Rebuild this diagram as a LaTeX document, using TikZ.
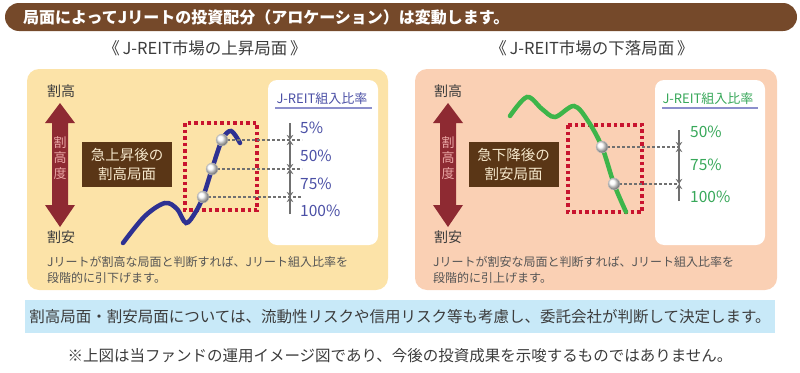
\documentclass[tikz,border=0pt]{standalone}
\usepackage{fontspec}
\setmainfont{Noto Sans CJK JP}
\usepackage{xcolor}
\usetikzlibrary{arrows.meta,shadings}
\definecolor{barbrown}{HTML}{75492A}
\definecolor{riseback}{HTML}{FCE3A8}
\definecolor{fallback}{HTML}{FAD0B4}
\definecolor{scalered}{HTML}{8E2A32}
\definecolor{scaletext}{HTML}{EBA8A6}
\definecolor{phasebrown}{HTML}{5A3616}
\definecolor{phasetext}{HTML}{F6E8CC}
\definecolor{zonered}{HTML}{C8142F}
\definecolor{risenavy}{HTML}{2E3192}
\definecolor{fallgreen}{HTML}{3DB54A}
\definecolor{rateblue}{HTML}{4B50A6}
\definecolor{rategreen}{HTML}{38A85A}
\definecolor{ruleblue}{HTML}{8C8FCC}
\definecolor{bandblue}{HTML}{C8E9F8}
\definecolor{inkgray}{HTML}{3C3C3C}
\definecolor{capgray}{HTML}{555555}
\definecolor{guidegray}{HTML}{707070}
\newcommand{\pxfont}[2]{\fontsize{#1}{#2}\selectfont}
\tikzset{
  panelbox/.style={rounded corners=12pt},
  ratebox/.style={fill=white, rounded corners=9pt},
  endlabel/.style={font=\pxfont{14}{16}, text=inkgray, inner sep=0pt},
  phasebox/.style={fill=phasebrown, text=phasetext, align=center, inner sep=0pt, minimum width=90pt, minimum height=45pt, font=\pxfont{14.5}{19}},
  zonebox/.style={draw=zonered, line width=3.5pt, dash pattern=on 3.5pt off 3pt},
  trendline/.style={line width=4.5pt, line cap=round},
  levelline/.style={draw=guidegray, line width=1.2pt, dash pattern=on 3pt off 2pt},
  marker/.style={circle, shading=ball, ball color=white, draw=gray!45, minimum size=12pt, inner sep=0pt},
  steparrow/.style={draw=guidegray, line width=2pt, -{Stealth[length=5pt,width=6.5pt]}},
  twoarrow/.style={draw=guidegray, line width=2pt, {Stealth[length=5pt,width=6.5pt]}-{Stealth[length=5pt,width=6.5pt]}},
  ratelabel/.style={anchor=west, inner sep=0pt, font=\pxfont{15.5}{18}},
  rulehead/.style={inner sep=0pt, font=\pxfont{13}{16}},
  caption/.style={anchor=north west, align=left, inner sep=0pt, text=capgray, font=\pxfont{12}{16}}
}

\begin{document}
\begin{tikzpicture}[x=1pt, y=-1pt]
  \useasboundingbox (0,0) rectangle (800,372);

  % title bar
  \fill[barbrown, rounded corners=14pt] (5,3) rectangle (797,31);
  \node[anchor=west, inner sep=0pt, text=white, font=\pxfont{16}{18}\bfseries] (title) at (23,17) {局面によってJリートの投資配分（アロケーション）は変動します。};
  \node[inner sep=0pt, text=inkgray, font=\pxfont{16.5}{18}] (risehead) at (205,48) {《\,J-REIT市場の上昇局面\,》};
  \node[inner sep=0pt, text=inkgray, font=\pxfont{16.5}{18}] (fallhead) at (592,48) {《\,J-REIT市場の下落局面\,》};

  % panels
  \fill[riseback, panelbox] (27,69) rectangle (388,290);
  \fill[fallback, panelbox] (415,69) rectangle (777,290);
  \fill[ratebox] (268,80) rectangle (378,245);
  \fill[ratebox] (655,80) rectangle (765,245);

  % valuation scales
  \fill[scalered] (60,103) -- (75,123) -- (68,123) -- (68,205) -- (75,205) -- (60,227)
    -- (45,205) -- (52,205) -- (52,123) -- (45,123) -- cycle;
  \fill[scalered] (448,103) -- (463,123) -- (456,123) -- (456,205) -- (463,205) -- (448,227)
    -- (433,205) -- (440,205) -- (440,123) -- (433,123) -- cycle;
  \node[align=center, inner sep=0pt, text=scaletext, font=\pxfont{13}{15.5}] (risescale) at (60,158) {割\\高\\度};
  \node[align=center, inner sep=0pt, text=scaletext, font=\pxfont{13}{15.5}] (fallscale) at (448,158) {割\\高\\度};
  \node[endlabel] (risetop) at (61,91) {割高};
  \node[endlabel] (risebot) at (61,237) {割安};
  \node[endlabel] (falltop) at (448,91) {割高};
  \node[endlabel] (fallbot) at (448,237) {割安};

  \node[phasebox] (risephase) at (127,164.5) {急上昇後の\\割高局面};
  \node[phasebox] (fallphase) at (513.5,164.5) {急下降後の\\割安局面};

  % zones and trends
  \draw[zonebox] (185,123) rectangle (257,210);
  \draw[zonebox] (568,125) rectangle (642,212);
  \draw[trendline, risenavy] plot[smooth, tension=0.55] coordinates {(123,243) (145,216) (165,203) (177,209) (186,223) (195,213) (203,197) (212,169) (222,140) (231,131) (240,143)};
  \draw[trendline, fallgreen] plot[smooth, tension=0.55] coordinates {(510,116) (527,97) (542,109) (555,117) (574,106) (588,121) (602,147) (614,184) (626,212)};

  % rising market: levels
  \coordinate (riseend1) at (302,140);
  \coordinate (riseend2) at (302,169);
  \coordinate (riseend3) at (302,197);
  \draw[levelline] (222,140) -- (riseend1);
  \draw[levelline] (212,169) -- (riseend2);
  \draw[levelline] (203,197) -- (riseend3);
  \node[marker] (risemark1) at (222,140) {};
  \node[marker] (risemark2) at (212,169) {};
  \node[marker] (risemark3) at (203,197) {};

  \coordinate (risetick0) at (290,123);
  \coordinate (risetick1) at (290,140);
  \coordinate (risetick2) at (290,169);
  \coordinate (risetick3) at (290,197);
  \coordinate (risetick4) at (290,214);
  \draw[steparrow] (risetick0) -- (risetick1);
  \draw[twoarrow] (risetick1) -- (risetick2);
  \draw[twoarrow] (risetick2) -- (risetick3);
  \draw[steparrow] (risetick4) -- (risetick3);

  \node[rulehead, text=rateblue] (riserate) at (322,99) {J-REIT組入比率};
  \draw[ruleblue, line width=1.2pt] (275,108) -- (372,108);
  \node[ratelabel, text=rateblue] (rise5) at (300,128) {5\%};
  \node[ratelabel, text=rateblue] (rise50) at (300,156) {50\%};
  \node[ratelabel, text=rateblue] (rise75) at (300,184) {75\%};
  \node[ratelabel, text=rateblue] (rise100) at (300,211) {100\%};

  % falling market: levels
  \coordinate (fallend1) at (680,147);
  \coordinate (fallend2) at (680,184);
  \draw[levelline] (602,147) -- (fallend1);
  \draw[levelline] (614,184) -- (fallend2);
  \node[marker] (fallmark1) at (602,147) {};
  \node[marker] (fallmark2) at (614,184) {};

  \coordinate (falltick0) at (679,130);
  \coordinate (falltick1) at (679,147);
  \coordinate (falltick2) at (679,184);
  \coordinate (falltick3) at (679,201);
  \draw[steparrow] (falltick0) -- (falltick1);
  \draw[twoarrow] (falltick1) -- (falltick2);
  \draw[steparrow] (falltick3) -- (falltick2);

  \node[rulehead, text=rategreen] (fallrate) at (708,99) {J-REIT組入比率};
  \draw[ruleblue, line width=1.2pt] (662,108) -- (758,108);
  \node[ratelabel, text=rategreen] (fall50) at (690,132) {50\%};
  \node[ratelabel, text=rategreen] (fall75) at (690,165) {75\%};
  \node[ratelabel, text=rategreen] (fall100) at (690,197) {100\%};

  % captions
  \node[caption] (risecap) at (47,256) {Jリートが割高な局面と判断すれば、Jリート組入比率を\\段階的に引下げます。};
  \node[caption] (fallcap) at (433,256) {Jリートが割安な局面と判断すれば、Jリート組入比率を\\段階的に引上げます。};

  % notes
  \fill[bandblue] (25,300) rectangle (775,333);
  \node[inner sep=0pt, text=inkgray, font=\pxfont{15.5}{18}] (policy) at (400,316.5) {割高局面・割安局面については、流動性リスクや信用リスク等も考慮し、委託会社が判断して決定します。};
  \node[inner sep=0pt, text=inkgray, font=\pxfont{15.5}{18}] (notice) at (400,356) {※上図は当ファンドの運用イメージ図であり、今後の投資成果を示唆するものではありません。};
\end{tikzpicture}
\end{document}
